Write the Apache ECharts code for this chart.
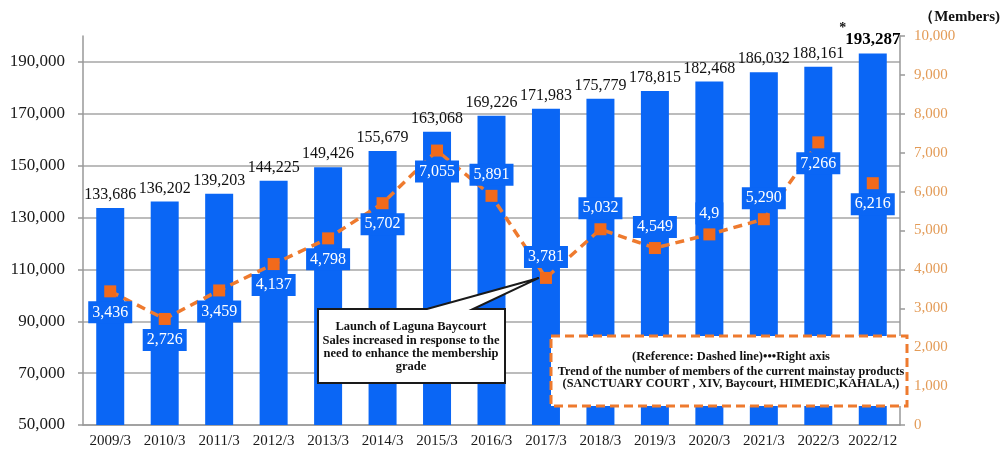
<!DOCTYPE html>
<html>
<head>
<meta charset="utf-8">
<script src="https://cdn.jsdelivr.net/npm/echarts@6/dist/echarts.min.js"></script>
<style>
  html, body { margin: 0; padding: 0; background: #fff; }
  #chart { width: 1005px; height: 456px; }
</style>
</head>
<body>
<div id="chart"></div>
<script>
// Fiscal periods on the category axis
const periods = ['2009/3', '2010/3', '2011/3', '2012/3', '2013/3', '2014/3', '2015/3', '2016/3',
  '2017/3', '2018/3', '2019/3', '2020/3', '2021/3', '2022/3', '2022/12'];

// Total members (bars, left axis)
const totalMembers = [133686, 136202, 139203, 144225, 149426, 155679, 163068, 169226,
  171983, 175779, 178815, 182468, 186032, 188161, 193287];

// Members of current mainstay products (dashed line, right axis)
const mainstayMembers = [3436, 2726, 3459, 4137, 4798, 5702, 7055, 5891,
  3781, 5032, 4549, 4900, 5290, 7266, 6216];

// Axis ranges
const leftAxisRange = [50000, 200000, 20000];
const rightAxisRange = [0, 10000, 1000];

const SERIF = 'Liberation Serif';
const BLUE = '#0A66F5';
const ORANGE = '#EE7A2E';
const MARKER = '#F26A1B';
const fmt = v => Number(v).toLocaleString('en-US');

// Points whose value box sits above the marker
const boxAbove = new Set([7, 8, 9, 10, 11, 12]);
const lastIdx = periods.length - 1;

const boxLabel = pos => ({
  show: true,
  position: pos,
  distance: 4,
  color: '#fff',
  backgroundColor: BLUE,
  padding: [2, 4],
  fontFamily: SERIF,
  fontSize: 16,
  lineHeight: 18,
  opacity: 1
});

const lineData = mainstayMembers.map((v, i) => ({
  value: i === lastIdx ? '-' : v,
  label: Object.assign(boxLabel(boxAbove.has(i) ? 'top' : 'bottom'), {
    formatter: i === 11 ? '4,9' : fmt(v)
  })
}));

const chart = echarts.init(document.getElementById('chart'));

chart.setOption({
  animation: false,
  backgroundColor: '#fff',
  grid: { left: 83, right: 105, top: 36, bottom: 31 },
  xAxis: {
    type: 'category',
    data: periods,
    axisLine: { lineStyle: { color: '#999', width: 1.5 } },
    axisTick: { interval: 2, length: 5, lineStyle: { color: '#999', width: 1.5 } },
    axisLabel: { interval: 0, margin: 9, color: '#1a1a1a', fontFamily: SERIF, fontSize: 15 }
  },
  yAxis: [
    {
      type: 'value',
      min: leftAxisRange[0], max: leftAxisRange[1], interval: leftAxisRange[2],
      axisLine: { show: true, lineStyle: { color: '#999', width: 1.5 } },
      axisTick: { show: true, length: 5, lineStyle: { color: '#999', width: 1.5 } },
      axisLabel: { showMaxLabel: false, margin: 18, color: '#1a1a1a', fontFamily: SERIF, fontSize: 17, formatter: fmt },
      splitLine: { showMaxLine: false, lineStyle: { color: '#a6a6a6', width: 1.5 } }
    },
    {
      type: 'value',
      position: 'right',
      min: rightAxisRange[0], max: rightAxisRange[1], interval: rightAxisRange[2],
      axisLine: { show: true, lineStyle: { color: '#999', width: 1.5 } },
      axisTick: { show: true, length: 5, lineStyle: { color: '#999', width: 1.5 } },
      axisLabel: { margin: 14, color: '#E39B57', fontFamily: SERIF, fontSize: 15, formatter: fmt },
      splitLine: { show: false }
    }
  ],
  series: [
    {
      type: 'bar',
      yAxisIndex: 0,
      barWidth: 28,
      itemStyle: { color: BLUE },
      label: {
        show: true, position: 'top', distance: 5,
        color: '#111', fontFamily: SERIF, fontSize: 16, formatter: p => fmt(p.value)
      },
      data: totalMembers.map((v, i) => i === lastIdx
        ? { value: v, label: { fontWeight: 'bold', color: '#000', fontSize: 17 } }
        : v),
      z: 2
    },
    {
      type: 'line',
      yAxisIndex: 1,
      data: lineData,
      symbol: 'rect',
      symbolSize: 12,
      itemStyle: { color: MARKER, opacity: 1 },
      lineStyle: { color: ORANGE, width: 3.5, type: [9, 6] },
      z: 3
    },
    {
      type: 'scatter',
      yAxisIndex: 1,
      symbol: 'rect',
      symbolSize: 12,
      itemStyle: { color: MARKER, opacity: 1 },
      label: Object.assign(boxLabel('bottom'), { formatter: p => fmt(p.value[1]) }),
      data: [[lastIdx, mainstayMembers[lastIdx]]],
      z: 3
    }
  ]
});

// Annotations: callout box, dashed reference box, unit and asterisk
const tip = chart.convertToPixel({ xAxisIndex: 0, yAxisIndex: 1 }, [8, mainstayMembers[8]]);
const lastTop = chart.convertToPixel({ xAxisIndex: 0, yAxisIndex: 0 }, [lastIdx, totalMembers[lastIdx]]);

const box = { l: 318, t: 309, r: 505, b: 383 };
const boldText = (x, y, text, size) => ({
  type: 'text', x, y, z: 20,
  style: {
    text, x: 0, y: 0, align: 'center', verticalAlign: 'middle',
    fontFamily: SERIF, fontWeight: 'bold', fontSize: size, fill: '#111'
  }
});

chart.setOption({
  graphic: [
    {
      type: 'polygon', z: 15,
      shape: {
        points: [
          [box.l, box.t], [427, box.t], [tip[0] - 7, tip[1]], [473, box.t],
          [box.r, box.t], [box.r, box.b], [box.l, box.b]
        ]
      },
      style: { fill: '#fff', stroke: '#1a1a1a', lineWidth: 2, lineJoin: 'miter' }
    },
    boldText(411, 327, 'Launch of Laguna Baycourt', 12.5),
    boldText(411, 341, 'Sales increased in response to the', 12.5),
    boldText(411, 354, 'need to enhance the membership', 12.5),
    boldText(411, 367, 'grade', 12.5),
    {
      type: 'rect', z: 15,
      shape: { x: 551, y: 336, width: 356, height: 70 },
      style: { fill: '#fff', stroke: ORANGE, lineWidth: 3, lineDash: [9, 5] }
    },
    boldText(731, 357, '(Reference: Dashed line)\u2022\u2022\u2022Right axis', 12.5),
    boldText(731, 372, 'Trend of the number of members of the current mainstay products', 12.2),
    boldText(731, 384, '(SANCTUARY COURT , XIV, Baycourt, HIMEDIC,KAHALA,)', 12.2),
    {
      type: 'text', z: 20, x: 1000, y: 17,
      style: {
        text: '\uFF08Members)', align: 'right', verticalAlign: 'middle',
        fontFamily: SERIF, fontWeight: 'bold', fontSize: 15, fill: '#111'
      }
    },
    {
      type: 'text', z: 20, x: lastTop[0] - 30, y: lastTop[1] - 25,
      style: {
        text: '*', align: 'center', verticalAlign: 'middle',
        fontFamily: SERIF, fontWeight: 'bold', fontSize: 14, fill: '#111'
      }
    }
  ]
});
</script>
</body>
</html>
